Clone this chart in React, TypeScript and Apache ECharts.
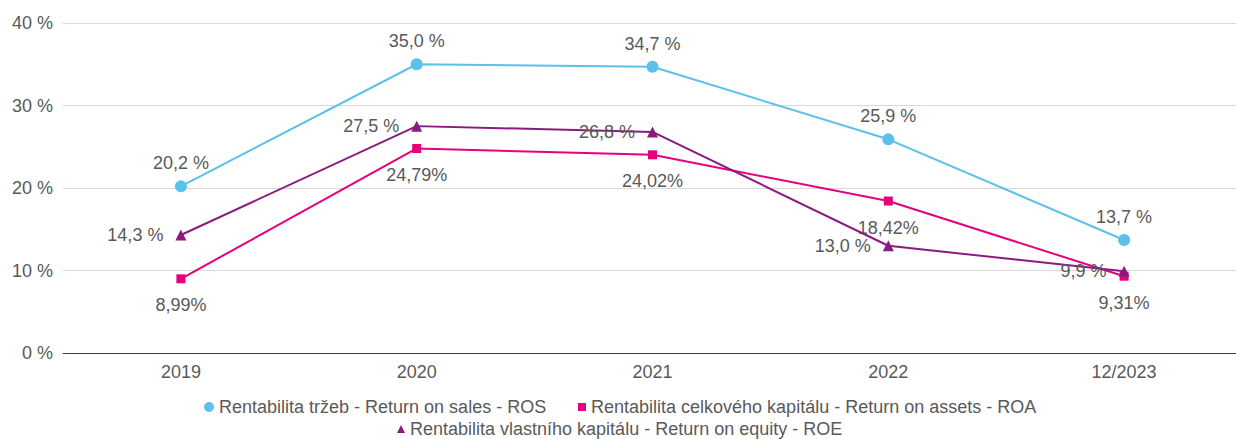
import React, { useEffect, useRef } from "react";
import * as echarts from "echarts";

const categories = ["2019", "2020", "2021", "2022", "12/2023"];
const rosValues = [20.2, 35.0, 34.7, 25.9, 13.7];
const roaValues = [8.99, 24.79, 24.02, 18.42, 9.31];
const roeValues = [14.3, 27.5, 26.8, 13.0, 9.9];
const seriesNames = [
  "Rentabilita tržeb - Return on sales - ROS",
  "Rentabilita celkového kapitálu - Return on assets - ROA",
  "Rentabilita vlastního kapitálu - Return on equity - ROE",
];
const yTicks = [0, 10, 20, 30, 40];

const FONT = "'Liberation Sans', Arial, sans-serif";
const TEXT = "#595959";
const C_ROS = "#5BC0EB";
const C_ROA = "#E6007E";
const C_ROE = "#8B1A7E";

export default function App() {
  const ref = useRef<HTMLDivElement>(null);
  useEffect(() => {
    if (!ref.current) return;
    const chart = echarts.init(ref.current, null, { renderer: "svg" });
    const fmt1 = (p: any) => p.value.toFixed(1).replace(".", ",") + " %";
    const fmt2 = (p: any) => p.value.toFixed(2).replace(".", ",") + "%";
    const legendText = { color: TEXT, fontSize: 18, lineHeight: 18, fontFamily: FONT };
    chart.setOption({
      animation: false,
      textStyle: { fontFamily: FONT },
      grid: { left: 63, right: 0, top: 23, bottom: 86 },
      legend: [
        {
          left: 204,
          top: 398,
          padding: 0,
          itemWidth: 10,
          itemHeight: 10,
          textStyle: legendText,
          data: [{ name: seriesNames[0], icon: "circle" }],
        },
        {
          left: 578,
          top: 398,
          padding: 0,
          itemWidth: 8,
          itemHeight: 8,
          textStyle: legendText,
          data: [{ name: seriesNames[1], icon: "rect" }],
        },
        {
          left: 397,
          top: 420,
          padding: 0,
          itemWidth: 8,
          itemHeight: 8,
          textStyle: legendText,
          data: [{ name: seriesNames[2], icon: "triangle" }],
        },
      ],
      xAxis: {
        type: "category",
        data: categories,
        boundaryGap: true,
        axisLine: { lineStyle: { color: "#404040", width: 1 } },
        axisTick: { show: false },
        axisLabel: { color: TEXT, fontSize: 18, fontFamily: FONT, margin: 10 },
      },
      yAxis: {
        type: "value",
        min: yTicks[0],
        max: yTicks[yTicks.length - 1],
        interval: 10,
        axisLine: { show: false },
        axisTick: { show: false },
        splitLine: { lineStyle: { color: "#d9d9d9", width: 1 } },
        axisLabel: {
          color: TEXT,
          fontSize: 18,
          fontFamily: FONT,
          margin: 10,
          formatter: "{value} %",
        },
      },
      series: [
        {
          name: seriesNames[0],
          type: "line",
          data: rosValues,
          color: C_ROS,
          symbol: "circle",
          symbolSize: 12,
          lineStyle: { width: 2, color: C_ROS },
          itemStyle: { color: C_ROS },
          z: 3,
          label: {
            show: true,
            position: "top",
            distance: 8,
            color: TEXT,
            fontSize: 18,
            fontFamily: FONT,
            formatter: fmt1,
          },
        },
        {
          name: seriesNames[1],
          type: "line",
          data: roaValues,
          color: C_ROA,
          symbol: "rect",
          symbolSize: 9,
          lineStyle: { width: 2, color: C_ROA },
          itemStyle: { color: C_ROA },
          z: 2,
          label: {
            show: true,
            position: "bottom",
            distance: 13,
            color: TEXT,
            fontSize: 18,
            fontFamily: FONT,
            formatter: fmt2,
          },
        },
        {
          name: seriesNames[2],
          type: "line",
          data: roeValues,
          color: C_ROE,
          symbol: "triangle",
          symbolSize: 11,
          lineStyle: { width: 2, color: C_ROE },
          itemStyle: { color: C_ROE },
          z: 4,
          label: {
            show: true,
            position: "left",
            distance: 12,
            color: TEXT,
            fontSize: 18,
            fontFamily: FONT,
            formatter: fmt1,
          },
        },
      ],
    });
    return () => chart.dispose();
  }, []);
  return (
    <div
      style={{
        width: 1236,
        height: 439,
        position: "absolute",
        left: 0,
        top: 0,
        overflow: "hidden",
      }}
    >
      <div ref={ref} style={{ width: 1242, height: 439 }} />
    </div>
  );
}
